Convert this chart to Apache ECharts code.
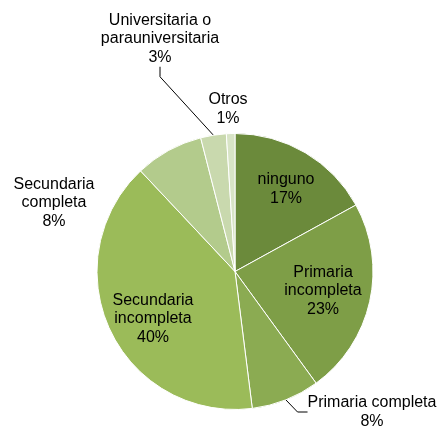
<!DOCTYPE html>
<html>
<head>
<meta charset="utf-8">
<script src="https://cdn.jsdelivr.net/npm/echarts@6/dist/echarts.min.js"></script>
<style>
  html, body { margin: 0; padding: 0; background: #fff; }
  #container { width: 437px; height: 426px; }
</style>
</head>
<body>
<div id="container"></div>
<script>
// data
const categories = ['ninguno', 'Primaria incompleta', 'Primaria completa', 'Secundaria incompleta',
  'Secundaria completa', 'Universitaria o parauniversitaria', 'Otros'];
const labelNames = ['ninguno', 'Primaria\nincompleta', 'Primaria completa', 'Secundaria\nincompleta',
  'Secundaria\ncompleta', 'Universitaria o\nparauniversitaria', 'Otros'];
const values = [17, 23, 8, 40, 8, 3, 1];
const colors = ['#6b8a3b', '#7e9e47', '#8bab52', '#9bbb59', '#b3cb8c', '#c9d9ae', '#d8e4c6'];

// label centres (layout only)
const labelPos = [[286, 189], [323, 291], [372, 412], [153, 319], [54, 203], [160, 39], [228, 109]];
const withLine = [false, false, true, false, false, true, false];

const dom = document.getElementById('container');
const myChart = echarts.init(dom, null, { renderer: 'canvas' });

const option = {
  animation: false,
  series: [
    {
      type: 'pie',
      center: [235, 271.5],
      radius: 138,
      startAngle: 90,
      clockwise: true,
      percentPrecision: 0,
      itemStyle: { borderColor: '#fff', borderWidth: 1 },
      label: {
        show: true,
        position: 'outside',
        overflow: 'none',
        color: '#000',
        fontFamily: 'Liberation Sans, Arial, sans-serif',
        fontSize: 16,
        lineHeight: 18.5,
        align: 'center',
        formatter: p => labelNames[p.dataIndex] + '\n' + p.percent + '%'
      },
      labelLine: { lineStyle: { color: '#000', width: 1 } },
      labelLayout: p => ({
        x: labelPos[p.dataIndex][0],
        y: labelPos[p.dataIndex][1],
        align: 'center',
        verticalAlign: 'middle'
      }),
      emphasis: { disabled: true },
      data: categories.map((c, i) => ({
        name: c,
        value: values[i],
        itemStyle: { color: colors[i] },
        labelLine: { show: withLine[i], length: 10, length2: 10 }
      }))
    }
  ]
};

myChart.setOption(option);
window.addEventListener('resize', myChart.resize);
</script>
</body>
</html>
